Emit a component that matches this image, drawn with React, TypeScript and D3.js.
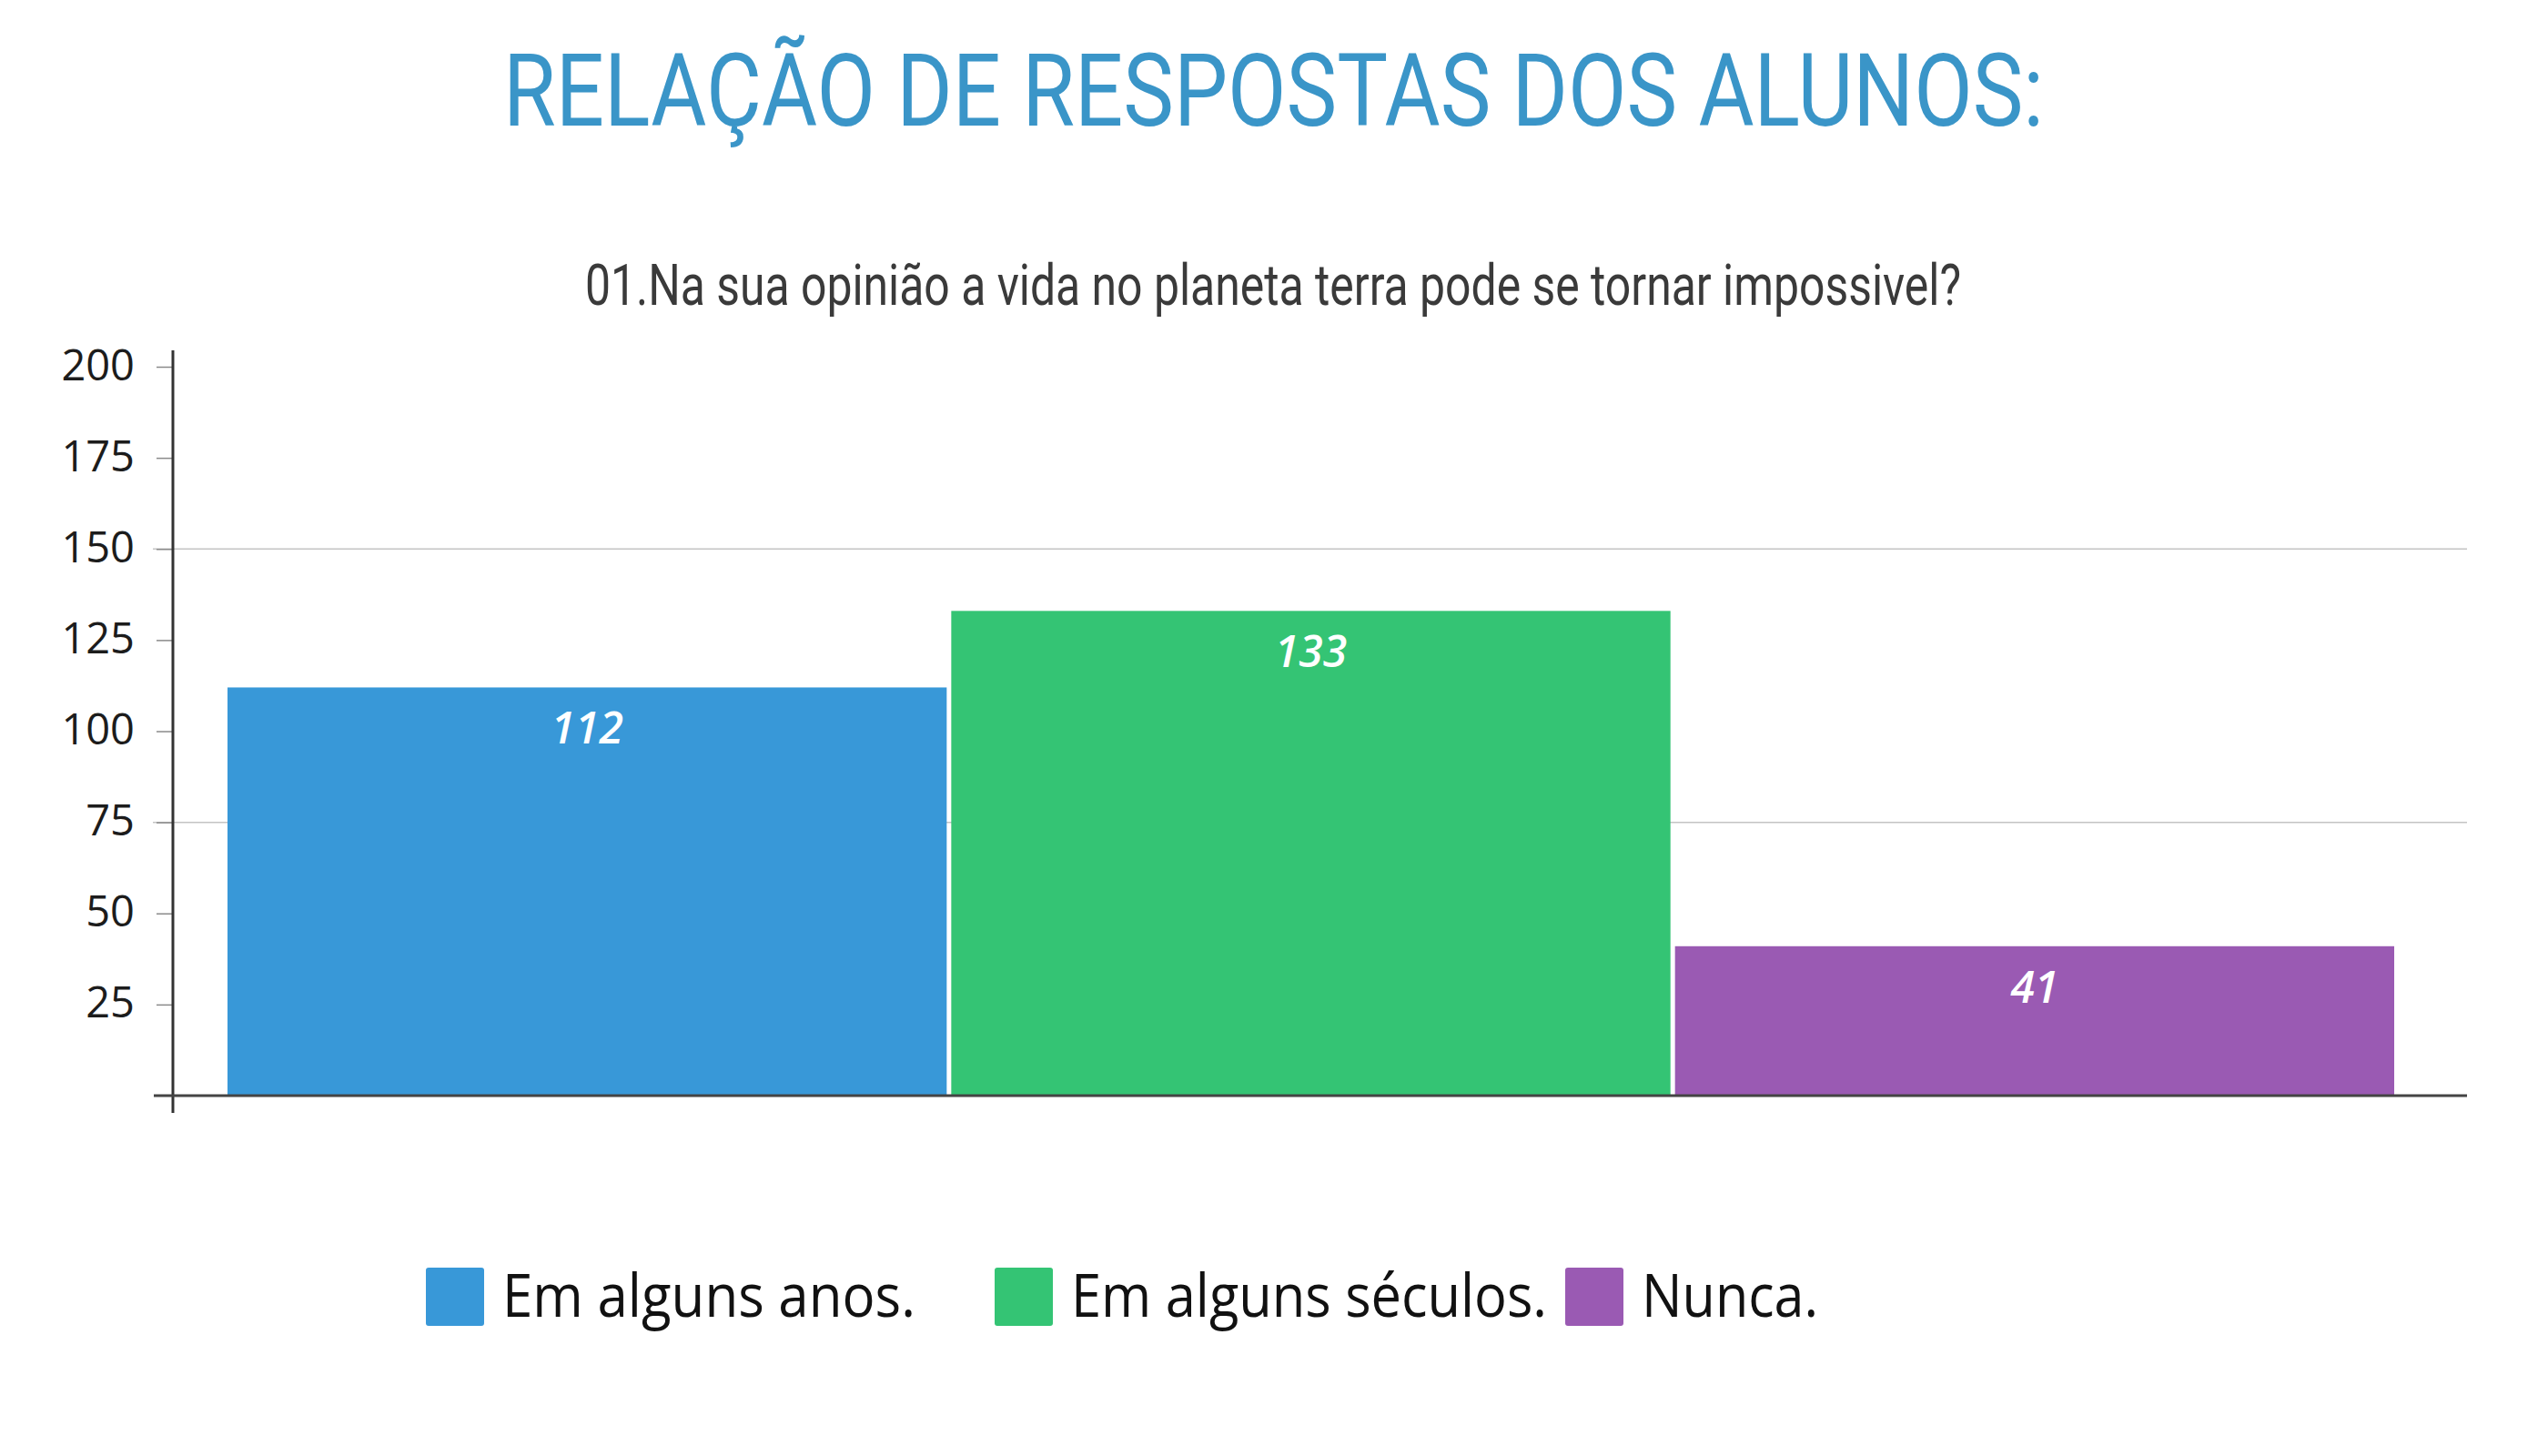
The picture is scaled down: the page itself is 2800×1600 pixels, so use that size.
import React, { useEffect, useRef } from 'react';
import * as d3 from 'd3';

const categories = ['Em alguns anos.', 'Em alguns séculos.', 'Nunca.'];
const values = [112, 133, 41];
const colors = ['#3898d8', '#34c474', '#9a5ab3'];
const yTicks = [25, 50, 75, 100, 125, 150, 175, 200];
const gridTicks = [75, 150];

const title = 'RELAÇÃO DE RESPOSTAS DOS ALUNOS:';
const subtitle = '01.Na sua opinião a vida no planeta terra pode se tornar impossivel?';

const App = () => {
  const svgRef = useRef(null);

  useEffect(() => {
    document.body.style.margin = '0';
    const width = 2800;
    const height = 1600;

    const svg = d3.select(svgRef.current);
    svg.selectAll('*').remove();
    svg.attr('width', width).attr('height', height).attr('viewBox', `0 0 ${width} ${height}`);

    svg.append('rect').attr('width', width).attr('height', height).attr('fill', '#ffffff');

    // titles
    svg.append('text')
      .attr('x', 553).attr('y', 138)
      .attr('textLength', 1693).attr('lengthAdjust', 'spacingAndGlyphs')
      .style('font-family', 'Roboto, sans-serif')
      .style('font-size', '112px')
      .style('fill', '#3a95c8')
      .text(title);

    svg.append('text')
      .attr('x', 643).attr('y', 335)
      .attr('textLength', 1512).attr('lengthAdjust', 'spacingAndGlyphs')
      .style('font-family', 'Roboto, sans-serif')
      .style('font-size', '63px')
      .style('fill', '#3a3a3a')
      .text(subtitle);

    const axisX = 190;
    const plotRight = 2711;

    const x = d3.scaleBand().domain(categories).range([250, 2631]).paddingInner(0.0063);
    const y = d3.scaleLinear().domain([0, 200]).range([1204, 403]);

    const g = svg.append('g');

    // gridlines
    g.selectAll('line.grid')
      .data(gridTicks)
      .enter().append('line')
      .attr('class', 'grid')
      .attr('x1', 168).attr('x2', plotRight)
      .attr('y1', d => y(d)).attr('y2', d => y(d))
      .attr('stroke', '#c4c4c4').attr('stroke-width', 1.5);

    // bars
    g.selectAll('rect.bar')
      .data(values)
      .enter().append('rect')
      .attr('class', 'bar')
      .attr('x', (d, i) => x(categories[i]))
      .attr('y', d => y(d))
      .attr('width', x.bandwidth())
      .attr('height', d => y(0) - y(d))
      .attr('fill', (d, i) => colors[i]);

    // value labels
    g.selectAll('text.val')
      .data(values)
      .enter().append('text')
      .attr('class', 'val')
      .attr('x', (d, i) => x(categories[i]) + x.bandwidth() / 2)
      .attr('y', d => y(d) + 62)
      .attr('text-anchor', 'middle')
      .style('font-family', '"Open Sans", sans-serif')
      .style('font-style', 'italic')
      .style('font-weight', 600)
      .style('font-size', '48px')
      .style('fill', '#ffffff')
      .text(d => d);

    // y axis
    const yAxis = g.append('g')
      .attr('transform', `translate(${axisX},0)`)
      .call(d3.axisLeft(y).tickValues(yTicks).tickSize(18).tickPadding(24));
    yAxis.select('.domain').remove();
    yAxis.selectAll('.tick line').attr('stroke', '#8a8a8a').attr('stroke-width', 1.5);
    yAxis.selectAll('.tick text')
      .attr('dy', '0.3em')
      .style('font-family', '"Open Sans", sans-serif')
      .style('font-size', '47px')
      .style('fill', '#1c1c1c');

    g.append('line')
      .attr('x1', axisX).attr('x2', axisX)
      .attr('y1', 385).attr('y2', 1223)
      .attr('stroke', '#333333').attr('stroke-width', 3);

    g.append('line')
      .attr('x1', 169).attr('x2', plotRight)
      .attr('y1', y(0)).attr('y2', y(0))
      .attr('stroke', '#444444').attr('stroke-width', 3);

    // legend
    const legendX = [468, 1093, 1720];
    const legendTextLen = [454, 523, 194];
    const leg = svg.append('g');
    categories.forEach((c, i) => {
      leg.append('rect')
        .attr('x', legendX[i]).attr('y', 1393)
        .attr('width', 64).attr('height', 64)
        .attr('rx', 3)
        .attr('fill', colors[i]);
      leg.append('text')
        .attr('x', legendX[i] + 84).attr('y', 1447)
        .attr('textLength', legendTextLen[i]).attr('lengthAdjust', 'spacingAndGlyphs')
        .style('font-family', '"Open Sans", sans-serif')
        .style('font-size', '65px')
        .style('fill', '#111111')
        .text(c);
    });
  }, []);

  return <svg ref={svgRef} style={{ display: 'block' }}></svg>;
};

export default App;
